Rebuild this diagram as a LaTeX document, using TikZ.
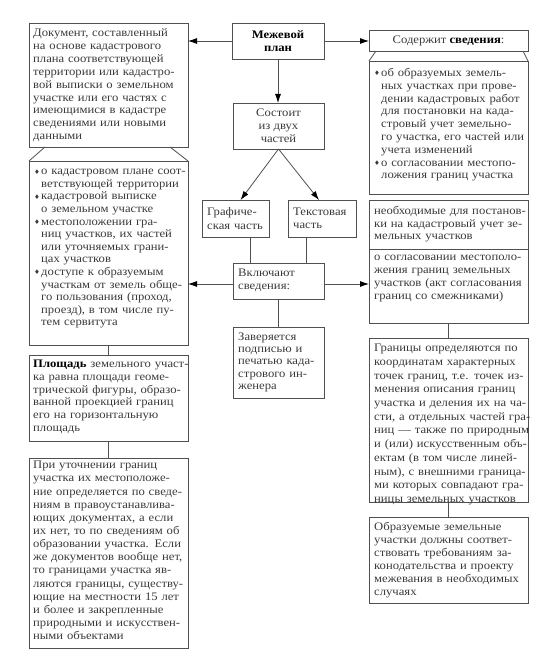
\documentclass[tikz,border=0pt]{standalone}
\usepackage{fontspec}
\setmainfont{Liberation Serif}[FakeStretch=1.1]
\newfontfamily\symfont{DejaVu Sans}
\usetikzlibrary{arrows.meta}
\definecolor{linec}{HTML}{505050}
\definecolor{txtc}{HTML}{3A3A3A}
\newcommand\bul{\makebox[7pt][l]{\raisebox{0.6pt}{\symfont\fontsize{6.5}{6.5}\selectfont ♦}}}
\newcommand\ind{\hspace*{7pt}}
\begin{document}
\begin{tikzpicture}[x=1pt,y=-1pt,
  box/.style={draw=linec, line width=0.8pt, inner sep=0pt, outer sep=0pt, anchor=north west},
  txt/.style={inner sep=0pt, align=left, text width=158pt, text=txtc,
    font=\fontsize{11.5}{12.9}\selectfont, execute at begin node={\parindent=0pt}},
  ls/.style={font=\fontsize{11.5}{#1}\selectfont},
  stxt/.style={txt, text width=84pt},
  ctxt/.style={inner sep=0pt, align=center, text=txtc, font=\fontsize{11.5}{12.9}\selectfont},
  conn/.style={draw=linec, line width=0.8pt},
  arr/.style={draw=linec, line width=0.8pt, -{Latex[length=9pt,width=6pt,black]}}]
\useasboundingbox (0,0) rectangle (550,668);
% ---- boxes ----
\node[box, minimum width=159, minimum height=124] (L1) at (29,23) {};
\node[box, minimum width=159, minimum height=184] (L2) at (29,161) {};
\node[box, minimum width=159, minimum height=86]  (L3) at (29,355) {};
\node[box, minimum width=159, minimum height=190] (L4) at (29,458) {};
\node[box, minimum width=92, minimum height=36] (M) at (232,23) {};
\node[box, minimum width=91, minimum height=46] (S) at (233,103) {};
\node[box, minimum width=67, minimum height=37] (G) at (202,200) {};
\node[box, minimum width=68, minimum height=37] (T) at (288,200) {};
\node[box, minimum width=91, minimum height=36] (V) at (233,263) {};
\node[box, minimum width=91, minimum height=71] (Z) at (233,327) {};
\node[box, minimum width=159, minimum height=21]  (R1) at (369,30) {};
\node[box, minimum width=159, minimum height=133] (R2) at (369,61) {};
\node[box, minimum width=159, minimum height=123] (R3) at (369,200) {};
\node[box, minimum width=159, minimum height=164] (R4) at (369,338) {};
\node[box, minimum width=159, minimum height=86]  (R5) at (369,517) {};
% ---- texts ----
\node[txt, ls=12.9, anchor=north west] (L1t) at (33,28.5) {Документ, составленный\\на основе кадастрового\\плана соответствующей\\территории или кадастро-\\вой выписки о земельном\\участке или его частях с\\имеющимися в кадастре\\сведениями или новыми\\данными};
\node[txt, ls=12.6, anchor=north west] (L2t) at (34,169) {\bul о кадастровом плане соот-\\\ind ветствующей территории\\\bul кадастровой выписке\\\ind о земельном участке\\\bul местоположении гра-\\\ind ниц участков, их частей\\\ind или уточняемых грани-\\\ind цах участков\\\bul доступе к образуемым\\\ind участкам от земель обще-\\\ind го пользования (проход,\\\ind проезд), в том числе пу-\\\ind тем сервитута};
\node[txt, ls=12.7, anchor=north west] (L3t) at (33,360) {\textbf{\color{black}Площадь} земельного участ-\\ка равна площади геоме-\\трической фигуры, образо-\\ванной проекцией границ\\его на горизонтальную\\площадь};
\node[txt, ls=13.15, anchor=north west] (L4t) at (33,461) {При уточнении границ\\участка их местоположе-\\ние определяется по сведе-\\ниям в правоустанавлива-\\ющих документах, а если\\их нет, то по сведениям об\\образовании участка. Если\\же документов вообще нет,\\то границами участка яв-\\ляются границы, существу-\\ющие на местности 15 лет\\и более и закрепленные\\природными и искусствен-\\ными объектами};
\node[ctxt, font=\bfseries\fontsize{11.5}{13}\selectfont, text=black] (Mt) at (M.center) {Межевой\\план};
\node[ctxt, font=\fontsize{11.5}{13.2}\selectfont] (St) at (S.center) {Состоит\\из двух\\частей};
\node[stxt, ls=13.5, anchor=west, text width=62pt] (Gt) at ([xshift=5]G.west) {Графиче-\\ская часть};
\node[stxt, ls=12.8, anchor=west, text width=62pt] (Tt) at ([xshift=5]T.west) {Текстовая\\часть};
\node[stxt, ls=13.3, anchor=west] (Vt) at ([xshift=5,yshift=1]V.west) {Включают\\сведения:};
\node[stxt, ls=12.3, anchor=north west] (Zt) at (238,332.5) {Заверяется\\подписью и\\печатью када-\\стрового ин-\\женера};
\node[ctxt] (R1t) at (R1.center) {Содержит \textbf{\color{black}сведения}:};
\node[txt, ls=12.8, anchor=north west] (R2t) at (374,68) {\bul об образуемых земель-\\\ind ных участках при прове-\\\ind дении кадастровых работ\\\ind для постановки на када-\\\ind стровый учет земельно-\\\ind го участка, его частей или\\\ind учета изменений\\\bul о согласовании местопо-\\\ind ложения границ участка};
\node[txt, ls=12.4, anchor=north west] (R3t) at (374,206.5) {необходимые для постанов-\\ки на кадастровый учет зе-\\мельных участков};
\node[txt, ls=12.8, anchor=north west] (R3b) at (374,255) {о согласовании местополо-\\жения границ земельных\\участков (акт согласования\\границ со смежниками)};
\node[txt, ls=13.7, anchor=north west] (R4t) at (374,344) {Границы определяются по\\координатам характерных\\точек границ, т.е. точек из-\\менения описания границ\\участка и деления их на ча-\\сти, а отдельных частей гра-\\ниц — также по природным\\и (или) искусственным объ-\\ектам (в том числе линей-\\ным), с внешними граница-\\ми которых совпадают гра-\\ницы земельных участков};
\node[txt, ls=13.0, anchor=north west] (R5t) at (374,522) {Образуемые земельные\\участки должны соответ-\\ствовать требованиям за-\\конодательства и проекту\\межевания в необходимых\\случаях};
% ---- divider and trapezoids ----
\draw[conn] ([yshift=-49]R3.north west) -- ([yshift=-49]R3.north east);
\draw[conn] ([xshift=16]L1.south west) -- (L2.north west);
\draw[conn] ([xshift=-18]L1.south east) -- (L2.north east);
\draw[conn] ([xshift=7]R1.south west) -- (R2.north west);
\draw[conn] ([xshift=-5]R1.south east) -- (R2.north east);
% ---- connectors ----
\draw[arr] (M.west) -- (M.west -| L1.east);
\draw[arr] (M.east) -- (M.east -| R1.west);
\draw[arr] (M.south) -- (M.south |- S.north);
\draw[arr] (S.south) -- ([xshift=5]G.north);
\draw[arr] (S.south) -- ([xshift=-3]T.north);
\draw[conn] ([xshift=15]G.south) -- ([xshift=15]G.south |- V.north);
\draw[conn] ([xshift=-16]T.south) -- ([xshift=-16]T.south |- V.north);
\draw[arr] ([yshift=-3]V.west) -- ([yshift=-3]V.west -| L2.east);
\draw[arr] ([yshift=-3]V.east) -- ([yshift=-3]V.east -| R3.west);
\draw[conn] (V.south) -- (Z.north);
\draw[conn] (L2.south) -- (L3.north);
\draw[conn] (L3.south) -- (L4.north);
\draw[conn] (R3.south) -- (R4.north);
\draw[conn] (R4.south) -- (R5.north);
\end{tikzpicture}
\end{document}
